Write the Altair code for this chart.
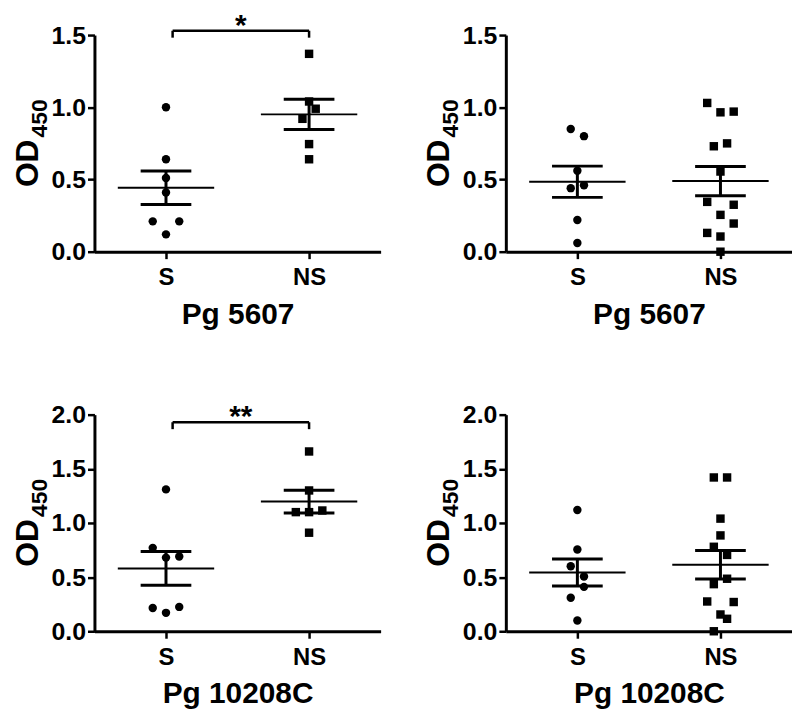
import altair as alt
import pandas as pd

# ---------------- data ----------------
group_names = ["S", "NS"]
panel_titles = ["Pg 5607", "Pg 5607", "Pg 10208C", "Pg 10208C"]
y_max = [1.5, 1.5, 2.0, 2.0]
y_ticks = [
    [0.0, 0.5, 1.0, 1.5],
    [0.0, 0.5, 1.0, 1.5],
    [0.0, 0.5, 1.0, 1.5, 2.0],
    [0.0, 0.5, 1.0, 1.5, 2.0],
]
sig_text = ["*", "", "**", ""]
sig_level = [1.53, 0.0, 1.93, 0.0]

s_5607_a = [1.00, 0.64, 0.51, 0.41, 0.21, 0.21, 0.12]
ns_5607_a = [1.37, 1.04, 0.99, 0.92, 0.745, 0.64]
s_5607_b = [0.85, 0.80, 0.56, 0.46, 0.44, 0.22, 0.06]
ns_5607_b = [1.03, 0.97, 0.965, 0.75, 0.73, 0.555, 0.345, 0.325, 0.255, 0.195, 0.13, 0.105, 0.0]
s_10208_a = [1.31, 0.77, 0.69, 0.68, 0.225, 0.215, 0.17]
ns_10208_a = [1.66, 1.30, 1.115, 1.10, 1.10, 0.91]
s_10208_b = [1.12, 0.755, 0.60, 0.505, 0.41, 0.31, 0.10]
ns_10208_b = [1.42, 1.42, 1.04, 0.885, 0.78, 0.705, 0.485, 0.435, 0.275, 0.27, 0.155, 0.115, 0.0]

# ---------------- layout / style ----------------
FONT = "Liberation Sans"
W, H = 288, 218
LANE = 0.0463          # horizontal step of the scatter (x units)


def lanes(values, ymax):
    """Column-scatter arrangement: rows of close values spread sideways."""
    thr = 0.0617 * ymax
    order = sorted(range(len(values)), key=lambda k: values[k])
    rows, cur = [], []
    for k in order:
        if cur and len(cur) < 3 and values[k] - values[cur[0]] <= thr:
            cur.append(k)
        else:
            if cur:
                rows.append(cur)
            cur = [k]
    if cur:
        rows.append(cur)
    out = [0] * len(values)
    flip = False
    for r in rows:
        if len(r) == 2:
            out[r[0]] = 1 if flip else -1
            out[r[1]] = -out[r[0]]
            flip = not flip
        elif len(r) == 3:
            out[r[0]] = 0
            out[r[1]] = 2 if flip else -2
            out[r[2]] = -out[r[1]]
            flip = not flip
    return out


def build_df(s_vals, ns_vals, ymax):
    rows = []
    for gi, (name, vals) in enumerate(zip(group_names, [s_vals, ns_vals]), start=1):
        for v, ln in zip(vals, lanes(vals, ymax)):
            rows.append({"g": gi, "grp": name, "value": v, "lane": ln})
    return pd.DataFrame(rows)


def make_panel(i, s_vals, ns_vals):
    ymax = y_max[i]
    df = build_df(s_vals, ns_vals, ymax)
    xs = alt.Scale(domain=[0.5, 2.5], nice=False, zero=False)
    ys = alt.Scale(domain=[0, ymax], nice=False, zero=True)
    xa = alt.Axis(values=[1, 2], labelExpr="datum.value == 1 ? 'S' : 'NS'",
                  title=panel_titles[i], grid=False, labelFlush=False)
    ya = alt.Axis(values=y_ticks[i], format=".1f", title=None, grid=False,
                  labelFlush=False)

    base = alt.Chart(df)
    pts = base.transform_calculate(
        xj=f"datum.g + datum.lane * {LANE}"
    ).mark_point(filled=True, size=72, opacity=1, color="black", strokeWidth=0).encode(
        x=alt.X("xj:Q", scale=xs, axis=xa),
        y=alt.Y("value:Q", scale=ys, axis=ya),
        shape=alt.Shape("grp:N", scale=alt.Scale(domain=group_names,
                                                 range=["circle", "square"]),
                        legend=None),
    )

    agg = base.transform_aggregate(
        m="mean(value)", se="stderr(value)", groupby=["g"]
    ).transform_calculate(lo="datum.m - datum.se", hi="datum.m + datum.se")

    mean_tick = agg.mark_tick(orient="horizontal", size=97, thickness=2,
                              color="black", opacity=1).encode(
        x=alt.X("g:Q", scale=xs, axis=xa), y=alt.Y("m:Q", scale=ys, axis=ya))
    sem_bar = agg.mark_rule(strokeWidth=3, color="black").encode(
        x=alt.X("g:Q", scale=xs, axis=xa), y=alt.Y("lo:Q", scale=ys, axis=ya),
        y2="hi:Q")
    cap_lo = agg.mark_tick(orient="horizontal", size=51, thickness=3,
                           color="black", opacity=1).encode(
        x=alt.X("g:Q", scale=xs, axis=xa), y=alt.Y("lo:Q", scale=ys, axis=ya))
    cap_hi = agg.mark_tick(orient="horizontal", size=51, thickness=3,
                           color="black", opacity=1).encode(
        x=alt.X("g:Q", scale=xs, axis=xa), y=alt.Y("hi:Q", scale=ys, axis=ya))

    layers = [pts, sem_bar, mean_tick, cap_lo, cap_hi]

    if sig_text[i]:
        bdf = pd.DataFrame({"x1": [1 + LANE], "x2": [2.0],
                            "yl": [sig_level[i]],
                            "yb": [sig_level[i] - 0.032 * ymax],
                            "t": [sig_text[i]]})
        bb = alt.Chart(bdf)
        layers += [
            bb.mark_rule(strokeWidth=2.5, color="black").encode(
                x=alt.X("x1:Q", scale=xs, axis=xa), x2="x2:Q",
                y=alt.Y("yl:Q", scale=ys, axis=ya)),
            bb.mark_rule(strokeWidth=2.5, color="black").encode(
                x=alt.X("x1:Q", scale=xs, axis=xa),
                y=alt.Y("yb:Q", scale=ys, axis=ya), y2="yl:Q"),
            bb.mark_rule(strokeWidth=2.5, color="black").encode(
                x=alt.X("x2:Q", scale=xs, axis=xa),
                y=alt.Y("yb:Q", scale=ys, axis=ya), y2="yl:Q"),
            bb.transform_calculate(xm="(datum.x1 + datum.x2) / 2").mark_text(
                fontSize=30, fontWeight="bold", font=FONT, baseline="top",
                align="center", dy=-20, color="black").encode(
                x=alt.X("xm:Q", scale=xs, axis=xa),
                y=alt.Y("yl:Q", scale=ys, axis=ya), text="t:N"),
        ]

    one = alt.Chart(pd.DataFrame({"k": [0]}))
    layers += [
        one.mark_text(text="OD", angle=270, align="left", baseline="alphabetic",
                      fontSize=32, fontWeight="bold", font=FONT, color="black").encode(
            x=alt.value(-57), y=alt.value(H / 2 + 44)),
        one.mark_text(text="450", angle=270, align="left", baseline="alphabetic",
                      fontSize=23, fontWeight="bold", font=FONT, color="black").encode(
            x=alt.value(-48), y=alt.value(H / 2 - 6)),
    ]
    return alt.layer(*layers).properties(width=W, height=H)


panels = [
    make_panel(0, s_5607_a, ns_5607_a),
    make_panel(1, s_5607_b, ns_5607_b),
    make_panel(2, s_10208_a, ns_10208_a),
    make_panel(3, s_10208_b, ns_10208_b),
]

chart = alt.concat(
    *panels, columns=2, spacing={"row": 164, "column": 126}, bounds="flush"
).properties(
    padding={"left": 4, "top": 0, "right": 0, "bottom": 0}
).configure_view(strokeWidth=0).configure_axis(
    domainColor="black", domainWidth=3, tickColor="black", tickWidth=2.5,
    tickSize=7, labelFont=FONT, labelFontWeight="bold", labelColor="black",
    titleFont=FONT, titleFontWeight="bold", titleColor="black",
).configure_axisX(
    labelFontSize=24, labelPadding=7, titleFontSize=30, titlePadding=10,
).configure_axisY(
    labelFontSize=25, labelPadding=2,
)

chart.save("out.html", embed_options={"renderer": "svg", "actions": False})
